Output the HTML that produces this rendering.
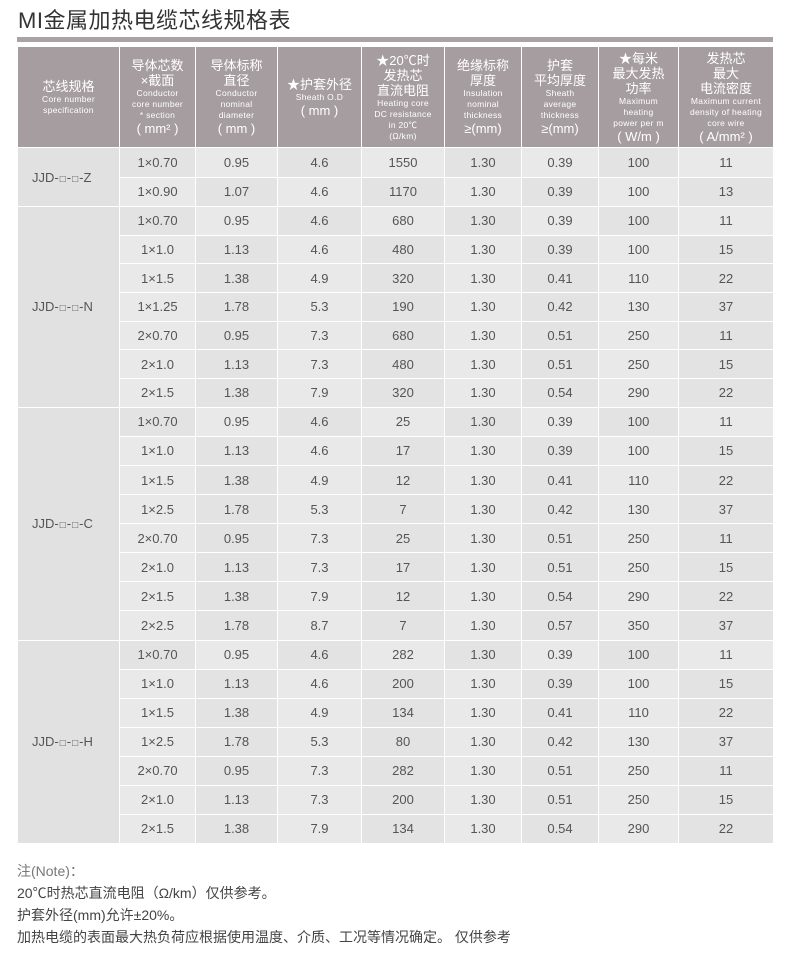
<!DOCTYPE html>
<html><head><meta charset="utf-8"><style>
*{margin:0;padding:0;box-sizing:border-box}
body{width:790px;height:956px;background:#fff;font-family:"Liberation Sans","Noto Sans CJK SC",sans-serif;color:#555;position:relative;overflow:hidden}
.title{position:absolute;left:18px;top:3px;font-size:22px;color:#333;letter-spacing:0.5px}
.bar{position:absolute;left:17px;top:37px;width:756px;height:5px;background:#a9a3a5}
table{position:absolute;left:17px;top:46px;border-collapse:collapse;table-layout:fixed;width:756px}
td,th{border:1.5px solid #fff;text-align:center;vertical-align:middle;font-weight:normal}
th{background:#a59da0;color:#fff;height:101px;font-size:8px;line-height:8px;overflow:hidden}
th small{font-size:8.5px;line-height:11px;height:11px;display:block;letter-spacing:0.3px}
th small br{}
th b{font-weight:normal;font-size:13px;display:block;line-height:15px}
td{font-size:13px;color:#555}
td.s{background:#e1e1e1;text-align:left;padding-left:14px}
tr td:nth-child(odd){background:#e9e9e9}
tr td:nth-child(even){background:#e3e3e3}
tr td.s{background:#e1e1e1}
.q{font-size:10px;margin:0 1px}
.note{position:absolute;left:17px;top:860px;font-size:14px;line-height:22px;color:#444}
</style></head><body>
<div class="title">MI金属加热电缆芯线规格表</div>
<div class="bar"></div>
<table>
<colgroup><col style="width:102px"><col style="width:76px"><col style="width:82px"><col style="width:84px"><col style="width:83px"><col style="width:77px"><col style="width:77px"><col style="width:80px"><col style="width:95px"></colgroup>
<tr><th><b>芯线规格</b><small>Core number</small><small>specification</small></th>
<th><b>导体芯数</b><b>×截面</b><small>Conductor</small><small>core number</small><small>* section</small><b>( mm² )</b></th>
<th><b>导体标称</b><b>直径</b><small>Conductor</small><small>nominal</small><small>diameter</small><b>( mm )</b></th>
<th><b>★护套外径</b><small>Sheath O.D</small><b>( mm )</b></th>
<th><b>★20℃时</b><b>发热芯</b><b>直流电阻</b><small>Heating core</small><small>DC resistance</small><small>in 20℃</small><small>(Ω/km)</small></th>
<th><b>绝缘标称</b><b>厚度</b><small>Insulation</small><small>nominal</small><small>thickness</small><b>≥(mm)</b></th>
<th><b>护套</b><b>平均厚度</b><small>Sheath</small><small>average</small><small>thickness</small><b>≥(mm)</b></th>
<th><b>★每米</b><b>最大发热</b><b>功率</b><small>Maximum</small><small>heating</small><small>power per m</small><b>( W/m )</b></th>
<th><b>发热芯</b><b>最大</b><b>电流密度</b><small>Maximum current</small><small>density of heating</small><small>core wire</small><b>( A/mm² )</b></th></tr>
<tr style="height:29.5px"><td class="s" rowspan="2">JJD-<span class="q">□</span>-<span class="q">□</span>-Z</td><td>1×0.70</td><td>0.95</td><td>4.6</td><td>1550</td><td>1.30</td><td>0.39</td><td>100</td><td>11</td></tr>
<tr style="height:29.5px"><td>1×0.90</td><td>1.07</td><td>4.6</td><td>1170</td><td>1.30</td><td>0.39</td><td>100</td><td>13</td></tr>
<tr style="height:28.7px"><td class="s" rowspan="7">JJD-<span class="q">□</span>-<span class="q">□</span>-N</td><td>1×0.70</td><td>0.95</td><td>4.6</td><td>680</td><td>1.30</td><td>0.39</td><td>100</td><td>11</td></tr>
<tr style="height:28.7px"><td>1×1.0</td><td>1.13</td><td>4.6</td><td>480</td><td>1.30</td><td>0.39</td><td>100</td><td>15</td></tr>
<tr style="height:28.7px"><td>1×1.5</td><td>1.38</td><td>4.9</td><td>320</td><td>1.30</td><td>0.41</td><td>110</td><td>22</td></tr>
<tr style="height:28.7px"><td>1×1.25</td><td>1.78</td><td>5.3</td><td>190</td><td>1.30</td><td>0.42</td><td>130</td><td>37</td></tr>
<tr style="height:28.7px"><td>2×0.70</td><td>0.95</td><td>7.3</td><td>680</td><td>1.30</td><td>0.51</td><td>250</td><td>11</td></tr>
<tr style="height:28.7px"><td>2×1.0</td><td>1.13</td><td>7.3</td><td>480</td><td>1.30</td><td>0.51</td><td>250</td><td>15</td></tr>
<tr style="height:28.7px"><td>2×1.5</td><td>1.38</td><td>7.9</td><td>320</td><td>1.30</td><td>0.54</td><td>290</td><td>22</td></tr>
<tr style="height:29.1px"><td class="s" rowspan="8">JJD-<span class="q">□</span>-<span class="q">□</span>-C</td><td>1×0.70</td><td>0.95</td><td>4.6</td><td>25</td><td>1.30</td><td>0.39</td><td>100</td><td>11</td></tr>
<tr style="height:29.1px"><td>1×1.0</td><td>1.13</td><td>4.6</td><td>17</td><td>1.30</td><td>0.39</td><td>100</td><td>15</td></tr>
<tr style="height:29.1px"><td>1×1.5</td><td>1.38</td><td>4.9</td><td>12</td><td>1.30</td><td>0.41</td><td>110</td><td>22</td></tr>
<tr style="height:29.1px"><td>1×2.5</td><td>1.78</td><td>5.3</td><td>7</td><td>1.30</td><td>0.42</td><td>130</td><td>37</td></tr>
<tr style="height:29.1px"><td>2×0.70</td><td>0.95</td><td>7.3</td><td>25</td><td>1.30</td><td>0.51</td><td>250</td><td>11</td></tr>
<tr style="height:29.1px"><td>2×1.0</td><td>1.13</td><td>7.3</td><td>17</td><td>1.30</td><td>0.51</td><td>250</td><td>15</td></tr>
<tr style="height:29.1px"><td>2×1.5</td><td>1.38</td><td>7.9</td><td>12</td><td>1.30</td><td>0.54</td><td>290</td><td>22</td></tr>
<tr style="height:29.1px"><td>2×2.5</td><td>1.78</td><td>8.7</td><td>7</td><td>1.30</td><td>0.57</td><td>350</td><td>37</td></tr>
<tr style="height:29px"><td class="s" rowspan="7">JJD-<span class="q">□</span>-<span class="q">□</span>-H</td><td>1×0.70</td><td>0.95</td><td>4.6</td><td>282</td><td>1.30</td><td>0.39</td><td>100</td><td>11</td></tr>
<tr style="height:29px"><td>1×1.0</td><td>1.13</td><td>4.6</td><td>200</td><td>1.30</td><td>0.39</td><td>100</td><td>15</td></tr>
<tr style="height:29px"><td>1×1.5</td><td>1.38</td><td>4.9</td><td>134</td><td>1.30</td><td>0.41</td><td>110</td><td>22</td></tr>
<tr style="height:29px"><td>1×2.5</td><td>1.78</td><td>5.3</td><td>80</td><td>1.30</td><td>0.42</td><td>130</td><td>37</td></tr>
<tr style="height:29px"><td>2×0.70</td><td>0.95</td><td>7.3</td><td>282</td><td>1.30</td><td>0.51</td><td>250</td><td>11</td></tr>
<tr style="height:29px"><td>2×1.0</td><td>1.13</td><td>7.3</td><td>200</td><td>1.30</td><td>0.51</td><td>250</td><td>15</td></tr>
<tr style="height:29px"><td>2×1.5</td><td>1.38</td><td>7.9</td><td>134</td><td>1.30</td><td>0.54</td><td>290</td><td>22</td></tr>
</table>
<div class="note"><span style="color:#777">注(Note)：</span><br>20℃时热芯直流电阻（Ω/km）仅供参考。<br>护套外径(mm)允许±20%。<br>加热电缆的表面最大热负荷应根据使用温度、介质、工况等情况确定。 仅供参考</div>
</body></html>
